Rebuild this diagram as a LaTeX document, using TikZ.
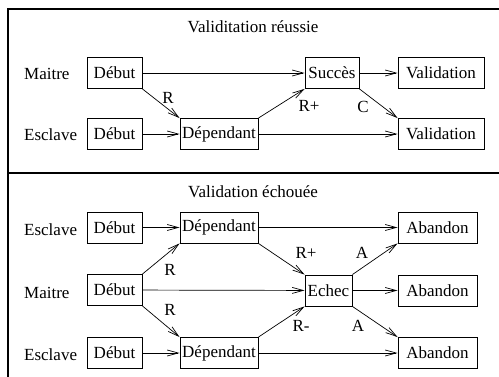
\documentclass[tikz,border=0pt]{standalone}
\usepackage{fontspec}
\setmainfont{Liberation Serif}
\newfontfamily\figfont{Liberation Serif}
\usetikzlibrary{arrows.meta}
\tikzset{
  etat/.style={draw, line width=0.9pt, minimum height=31pt, inner sep=1pt},
  lien/.style={-{Straight Barb[length=11pt,width=6pt]}, line width=0.7pt},
  role/.style={anchor=west, inner sep=0pt},
}
\begin{document}
\begin{tikzpicture}[x=1pt, y=-1pt, font=\figfont\fontsize{17}{20}\selectfont]
  \useasboundingbox (0,0) rectangle (499,377);
  % cadre
  \draw [line width=1.3pt] (499,9) -- (8,9) -- (8,377);
  \draw [line width=1.3pt] (8,173) -- (499,173);

  % validation reussie
  \node (titreA) at (253,27) {Validitation réussie};
  \node [role] (maitreA) at (24,74) {Maitre};
  \node [role] (esclaveA) at (24,135) {Esclave};
  \node [etat, minimum width=55pt] (debM) at (114.5,73) {Début};
  \node [etat, minimum width=55pt] (debE) at (114.5,134) {Début};
  \node [etat, minimum width=78pt] (dep) at (219,134) {Dépendant};
  \node [etat, minimum width=54pt] (succ) at (332,73) {Succès};
  \node [etat, minimum width=86pt] (valA) at (441,73) {Validation};
  \node [etat, minimum width=86pt] (valB) at (441,134) {Validation};
  \draw [lien] (debM) -- (succ);
  \draw [lien] (debM.south east) -- (dep.north west);
  \draw [lien] (debE) -- (dep);
  \draw [lien] (dep.north east) -- (succ.south west);
  \draw [lien] (succ) -- (valA);
  \draw [lien] (succ.south east) -- (valB.north west);
  \draw [lien] (dep) -- (valB);
  \node (r1) at (168,98) {R};
  \node (rp1) at (309,106) {R+};
  \node (c1) at (363,107) {C};

  % validation echouee
  \node (titreB) at (253,192) {Validation échouée};
  \node [role] (esclaveB) at (24,230) {Esclave};
  \node [role] (maitreB) at (24,293) {Maitre};
  \node [role] (esclaveC) at (24,355) {Esclave};
  \node [etat, minimum width=55pt] (debE1) at (114.5,227.5) {Début};
  \node [etat, minimum width=55pt] (debM2) at (114.5,290) {Début};
  \node [etat, minimum width=55pt] (debE2) at (114.5,353) {Début};
  \node [etat, minimum width=78pt] (dep1) at (219,227.5) {Dépendant};
  \node [etat, minimum width=78pt] (dep2) at (219,353) {Dépendant};
  \node [etat, minimum width=47pt] (echec) at (328.5,290.5) {Echec};
  \node [etat, minimum width=79pt] (ab1) at (437.5,227.5) {Abandon};
  \node [etat, minimum width=79pt] (ab2) at (437.5,290.5) {Abandon};
  \node [etat, minimum width=79pt] (ab3) at (437.5,353) {Abandon};
  \draw [lien] (debE1) -- (dep1);
  \draw [lien] (debM2.north east) -- (dep1.south west);
  \draw [lien] (debM2) -- (echec);
  \draw [lien] (debM2.south east) -- (dep2.north west);
  \draw [lien] (debE2) -- (dep2);
  \draw [lien] (dep1) -- (ab1);
  \draw [lien] (dep1.south east) -- (echec.north west);
  \draw [lien] (dep2.north east) -- (echec.south west);
  \draw [lien] (dep2) -- (ab3);
  \draw [lien] (echec) -- (ab2);
  \draw [lien] (echec.north east) -- (ab1.south west);
  \draw [lien] (echec.south east) -- (ab3.north west);
  \node (r2) at (170,270) {R};
  \node (r3) at (170,310) {R};
  \node (rp2) at (306,253) {R+};
  \node (a1) at (362,253) {A};
  \node (rm2) at (301,326) {R-};
  \node (a2) at (358,326) {A};
\end{tikzpicture}
\end{document}
